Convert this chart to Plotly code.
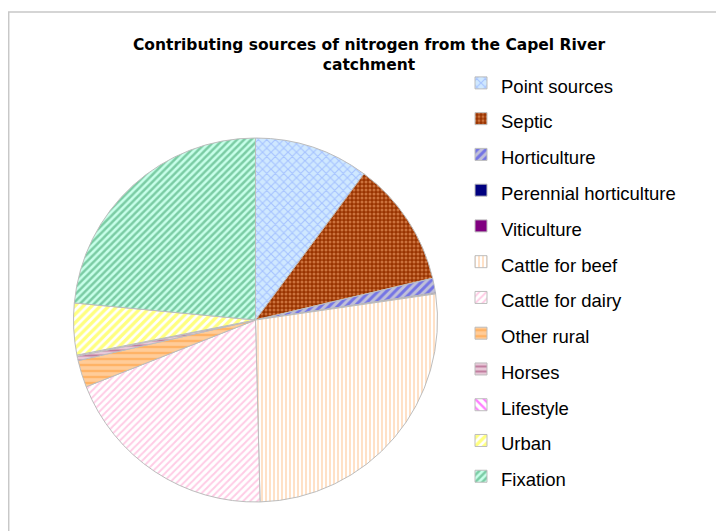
import plotly.graph_objects as go

categories = ["Point sources", "Septic", "Horticulture", "Perennial horticulture",
              "Viticulture", "Cattle for beef", "Cattle for dairy", "Other rural",
              "Horses", "Lifestyle", "Urban", "Fixation"]
values = [10.2, 11.2, 1.3, 0.05, 0.05, 27.0, 19.5, 2.4, 0.4, 0.1, 4.6, 23.6]

fg_colors = ["#7E9EFF", "#FFB27A", "#2828F0", "#000080", "#800080", "#FFC48F",
             "#FF99CC", "#FF9933", "#993366", "#FF00FF", "#FFFF00", "#2E9A5E"]
bg_colors = ["#CFE8FF", "#993300", "#C0C0D8", "#000080", "#800080", "#FFFFFF",
             "#FFFFFF", "#FFCC99", "#E8C8D8", "#FFFFFF", "#FFFFFF", "#C8FFEA"]
shapes = ["x", ".", "/", "", "", "|", "/", "-", "-", "\\", "/", "/"]
sizes = [6, 4, 6, 8, 8, 4, 5, 6, 5, 6, 6, 5]
solidity = [0.35, 0.45, 0.5, 0.3, 0.3, 0.5, 0.4, 0.4, 0.4, 0.4, 0.55, 0.5]

labels_html = ['<span style="font-size:18.5px">%s</span>' % c for c in categories]

# the page body adds an 8px offset; positions below are in figure pixels
W, H = 724, 531
cx, cy, r = 247.5, 312, 182

fig = go.Figure(go.Pie(
    labels=labels_html,
    values=values,
    sort=False,
    direction="clockwise",
    rotation=0,
    textinfo="none",
    hoverinfo="label+percent",
    marker=dict(
        colors=bg_colors,
        line=dict(color="#BDBDBD", width=1),
        pattern=dict(shape=shapes, fgcolor=fg_colors, bgcolor=bg_colors,
                     size=sizes, solidity=solidity, fillmode="overlay"),
    ),
    domain=dict(x=[(cx - r) / W, (cx + r) / W],
                y=[(H - cy - r) / H, (H - cy + r) / H]),
))

fig.update_layout(
    width=W, height=H,
    margin=dict(l=0, r=0, t=0, b=0),
    paper_bgcolor="white",
    font=dict(family="Liberation Sans, Arial, sans-serif", color="black"),
    title=dict(
        text="<b>Contributing sources of nitrogen from the Capel River<br>catchment</b>",
        x=361 / W, xanchor="center", y=1 - 42 / H, yanchor="top",
        font=dict(size=15.5, family="DejaVu Sans, Liberation Sans, sans-serif"),
    ),
    legend=dict(
        x=453 / W, xanchor="left",
        y=1 - 52 / H, yanchor="top",
        font=dict(size=25.2, family="Liberation Sans, Arial, sans-serif"),
        bgcolor="rgba(0,0,0,0)",
    ),
    shapes=[dict(type="rect", xref="paper", yref="paper",
                 x0=0.7 / W, x1=1.05, y0=-0.05, y1=1 - 4 / H,
                 line=dict(color="#C8C8C8", width=1.5), fillcolor="rgba(0,0,0,0)")],
)

fig.write_html("out.html")
